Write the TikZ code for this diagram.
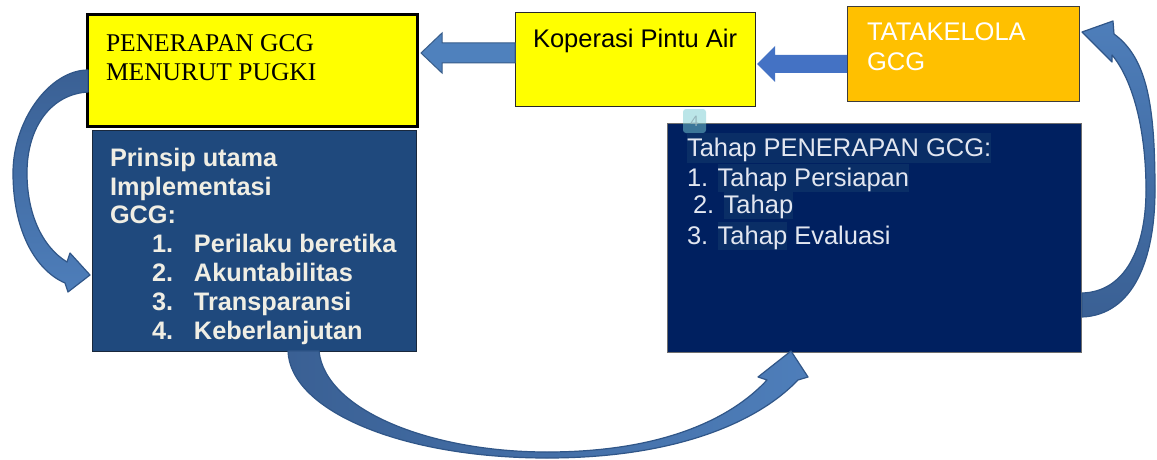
\documentclass[tikz,border=0pt]{standalone}
\usepackage{fontspec}
\setmainfont{Liberation Sans}
\newfontfamily\serifA{Liberation Serif}
\usetikzlibrary{calc}
\setlength{\fboxsep}{0pt}
\definecolor{ylw}{HTML}{FFFF00}
\definecolor{org}{HTML}{FFC000}
\definecolor{prinblue}{HTML}{1F497D}
\definecolor{navy}{HTML}{002060}
\definecolor{hlc}{RGB}{10,46,102}
\definecolor{cream}{RGB}{240,238,228}
\definecolor{lighttxt}{RGB}{226,230,240}
\definecolor{arrA}{HTML}{4F81BD}
\definecolor{arrAline}{HTML}{385D8A}
\definecolor{arrB}{HTML}{4472C4}
\definecolor{cdark}{RGB}{58,96,148}
\definecolor{clight}{RGB}{78,126,186}
\definecolor{cline}{RGB}{48,86,136}
\definecolor{tile}{RGB}{120,205,210}
\newcommand{\hlA}[1]{\colorbox{hlc}{\rule[-6pt]{0pt}{28pt}#1}}
\newcommand{\hlB}[1]{\colorbox{hlc}{\rule[-7pt]{0pt}{30pt}#1}}
\begin{document}
\begin{tikzpicture}[x=1pt,y=-1pt,
  box/.style={rectangle,inner sep=0pt,outer sep=0pt,anchor=north west},
  txt/.style={inner sep=0pt,outer sep=0pt,align=left},
  blockA/.style={fill=arrA,draw=arrAline,line width=1pt,line join=miter},
  blockB/.style={fill=arrB},
  curved/.style={draw=cline,line width=1.2pt,line join=round}]
\useasboundingbox (0,0) rectangle (1157,460);
\fill[white] (0,0) rectangle (1157,460);

% boxes
\node[box,fill=ylw,draw=black,line width=3pt,minimum width=330pt,minimum height=111pt] (pen) at (87,15) {};
\node[box,fill=prinblue,draw={rgb,255:red,25;green,40;blue,60},line width=1pt,minimum width=324pt,minimum height=221pt] (prin) at (92,130) {};
\node[box,fill=ylw,draw={rgb,255:red,40;green,40;blue,40},line width=1pt,minimum width=240pt,minimum height=93pt] (kop) at (515,13) {};
\node[box,fill=org,draw={rgb,255:red,60;green,60;blue,60},line width=1pt,minimum width=232pt,minimum height=94pt] (tata) at (847,7) {};
\node[box,fill=navy,draw={rgb,255:red,110;green,110;blue,110},line width=0.8pt,minimum width=414pt,minimum height=229pt] (tahap) at (667,123) {};

% page number tile
\node[box,fill=tile,fill opacity=0.5,text opacity=1,rounded corners=3pt,minimum width=23pt,minimum height=24pt,
  text={rgb,255:red,150;green,180;blue,188},font=\fontsize{15}{15}\selectfont] (tile4) at (683,109) {4};

% texts
\node[txt,anchor=north west,font=\serifA\fontsize{25.5}{29}\selectfont] (pentxt) at (106,35) {PENERAPAN GCG\\MENURUT PUGKI};
\node[txt,anchor=north west,font=\fontsize{25.5}{29}\selectfont] (koptxt) at (533,29) {Koperasi Pintu Air};
\node[txt,anchor=north west,text=white,font=\fontsize{25.5}{30}\selectfont] (tatatxt) at (867,23) {TATAKELOLA\\GCG};
\node[txt,anchor=north west,text=cream,font=\bfseries\fontsize{25.3}{28.8}\selectfont] (printxt) at (110,148) {Prinsip utama\\Implementasi\\GCG:\\
\hspace*{42pt}\makebox[42pt][l]{1.}Perilaku beretika\\
\hspace*{42pt}\makebox[42pt][l]{2.}Akuntabilitas\\
\hspace*{42pt}\makebox[42pt][l]{3.}Transparansi\\
\hspace*{42pt}\makebox[42pt][l]{4.}Keberlanjutan};
\begin{scope}[every node/.style={txt,anchor=base west,text=lighttxt,font=\fontsize{25.5}{29}\selectfont}]
\node (t1) at (687,156) {\hlB{Tahap PENERAPAN GCG:}};
\node (t2) at (687,186) {1. \hlA{Tahap Persiapan}};
\node (t3) at (693,213) {2. \hlA{Tahap}};
\node (t4) at (687,244) {3. \hlA{Tahap} Evaluasi};
\end{scope}

% straight block arrows
\coordinate (a1tip) at ($(pen.north east)+(4,38)$);
\draw[blockA] (a1tip) -- ++(21,-20) -- ++(0,10) -- ($(kop.north west)+(0,30)$) -- ++(0,20)
  -- ($(a1tip)+(21,10)$) -- ++(0,10) -- cycle;
\coordinate (a2tip) at ($(kop.north east)+(2,51)$);
\fill[blockB] (a2tip) -- ++(18,-18) -- ++(0,9) -- ($(tata.north west)+(0,48)$) -- ++(0,18)
  -- ($(a2tip)+(18,9)$) -- ++(0,9) -- cycle;

% curved arrow: PENERAPAN -> Prinsip (left)
\path[curved,top color=cdark,bottom color=clight]
  (88,70) .. controls (50,70) and (13,120) .. (13,173)
  .. controls (13,230) and (35,270) .. (65,283)
  -- (68,292) -- (90,275) -- (70,253) -- (67,262)
  .. controls (41,246) and (27,212) .. (27,173)
  .. controls (27,126) and (52,94) .. (88,92) -- cycle;

% curved arrow: Prinsip -> Tahap (bottom)
\path[curved,left color=cdark,right color=clight]
  (288,351) .. controls (290,410) and (400,458) .. (547,458)
  .. controls (680,458) and (760,420) .. (798,380)
  -- (808,377) -- (791,351) -- (758,377) -- (767,380)
  .. controls (730,420) and (660,452) .. (547,452)
  .. controls (430,452) and (325,410) .. (319,351) -- cycle;

% curved arrow: Tahap -> TATAKELOLA (right)
\path[curved,bottom color=cdark,top color=clight]
  (1082,317) .. controls (1133,315) and (1155,260) .. (1155,190)
  .. controls (1155,105) and (1147,58) .. (1114,34)
  -- (1113,21) -- (1082,32) -- (1112,62) -- (1112,55)
  .. controls (1133,80) and (1146,130) .. (1146,190)
  .. controls (1146,250) and (1124,292) .. (1082,293) -- cycle;
\end{tikzpicture}
\end{document}
